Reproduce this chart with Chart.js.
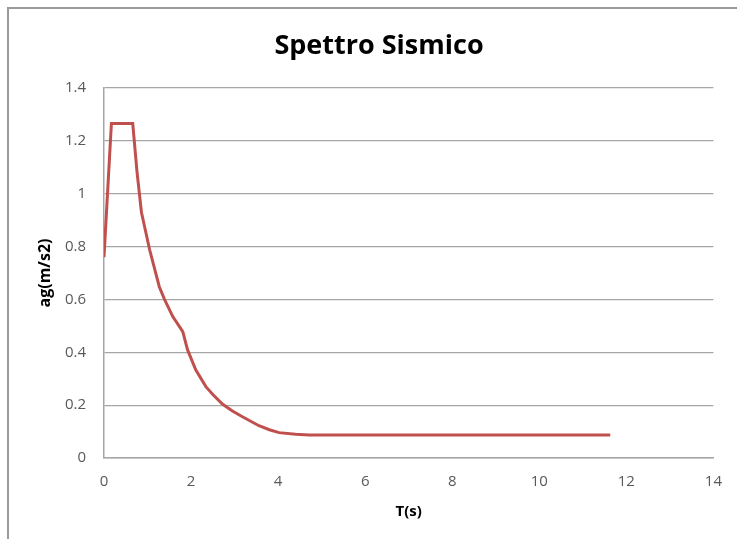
<!DOCTYPE html>
<html>
<head>
<meta charset="utf-8">
<script src="https://cdn.jsdelivr.net/npm/chart.js@4/dist/chart.umd.min.js"></script>
<style>
  body { margin: 0; background: #fff; }
  #wrap { position: relative; width: 737px; height: 539px; overflow: hidden; }
  #frame { position: absolute; left: 7px; top: 7px; width: 800px; height: 600px;
           border-left: 2px solid #9a9a9a; border-top: 2px solid #9a9a9a; }
  #spettro { position: absolute; left: 0; top: 0; }
</style>
</head>
<body>
<div id="wrap">
  <div id="frame"></div>
  <canvas id="spettro" width="737" height="539"></canvas>
</div>
<script>
// periodo T (s) e accelerazione ag (m/s2)
const periods = [0, 0.17, 0.66, 0.76, 0.86, 1.05, 1.27, 1.39, 1.58, 1.81, 1.92, 2.11, 2.34, 2.5, 2.72, 2.95, 3.18, 3.56, 3.8, 4.02, 4.4, 4.71, 11.63];
const accel   = [0.76, 1.266, 1.266, 1.08, 0.93, 0.787, 0.648, 0.60, 0.535, 0.478, 0.409, 0.333, 0.27, 0.24, 0.204, 0.178, 0.156, 0.122, 0.107, 0.096, 0.09, 0.087, 0.087];

const xTicks = [0, 2, 4, 6, 8, 10, 12, 14];
const yTicks = [0, 0.2, 0.4, 0.6, 0.8, 1, 1.2, 1.4];

const points = periods.map((t, i) => ({x: t, y: accel[i]}));

const labelFont = {family: "'Open Sans', sans-serif", size: 15};
const gray = '#a6a6a6';

new Chart("spettro", {
    type: 'line',
    data: {
        datasets: [{
            label: 'Spettro',
            data: points,
            borderColor: '#C0504D',
            borderWidth: 3,
            pointRadius: 0,
            tension: 0,
            fill: false
        }]
    },
    options: {
        responsive: false,
        animation: false,
        layout: { padding: {left: 42, right: 21, top: 0, bottom: 0} },
        plugins: {
            legend: { display: false },
            tooltip: { enabled: false },
            title: {
                display: true,
                text: 'Spettro Sismico',
                color: '#000',
                font: {family: "'Open Sans', sans-serif", size: 27, weight: 'bold'},
                padding: {top: 30, bottom: 25.6}
            }
        },
        scales: {
            x: {
                type: 'linear',
                min: xTicks[0],
                max: xTicks[xTicks.length - 1],
                afterBuildTicks: s => { s.ticks = xTicks.map(v => ({value: v})); },
                afterFit: s => { s.height = 81; },
                grid: { display: false, drawTicks: false },
                border: { display: true, color: gray, width: 1.5 },
                ticks: { color: '#595959', font: labelFont, padding: 15 },
                title: {
                    display: true, text: 'T(s)', color: '#000',
                    font: {family: "'Open Sans', sans-serif", size: 15, weight: 'bold'},
                    padding: {top: 0, bottom: 18}
                }
            },
            y: {
                min: yTicks[0],
                max: yTicks[yTicks.length - 1],
                afterBuildTicks: s => { s.ticks = yTicks.map(v => ({value: v})); },
                afterFit: s => { s.width = 62; },
                grid: { color: gray, lineWidth: 1.2, drawTicks: false },
                border: { display: true, color: gray, width: 1.5 },
                ticks: {
                    color: '#595959', font: labelFont, padding: 18,
                    callback: v => String(+v.toFixed(1))
                },
                title: {
                    display: true, text: 'ag(m/s2)', color: '#000',
                    font: {family: "'Open Sans', sans-serif", size: 16, weight: 'bold'},
                    padding: {top: -6.6, bottom: 0}
                }
            }
        }
    }
});
</script>
</body>
</html>
